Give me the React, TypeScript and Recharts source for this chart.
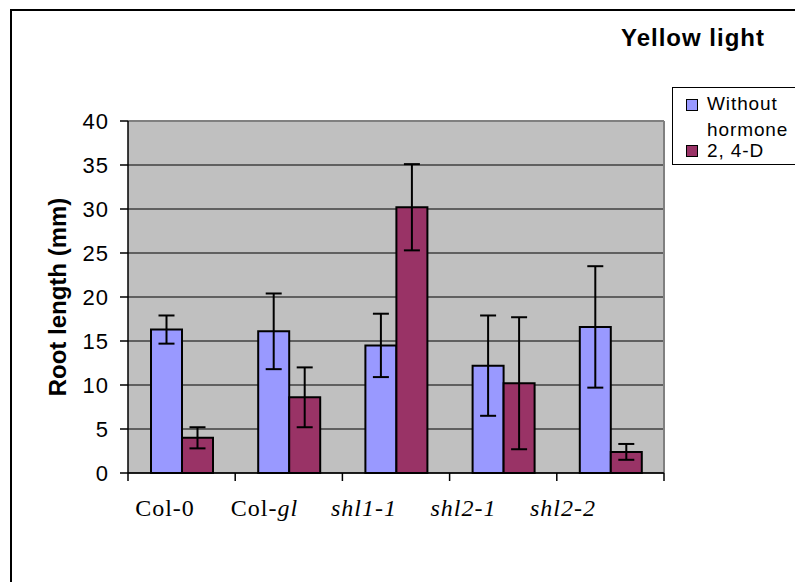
import React from 'react';
import { BarChart, Bar, XAxis, YAxis, CartesianGrid, ErrorBar, Legend } from 'recharts';

// values
const categories = ['Col-0', 'Col-gl', 'shl1-1', 'shl2-1', 'shl2-2'];
const withoutHormone = [16.3, 16.1, 14.5, 12.2, 16.6];
const withoutHormoneErr = [1.6, 4.3, 3.6, 5.7, 6.9];
const twoFourD = [4.0, 8.6, 30.2, 10.2, 2.4];
const twoFourDErr = [1.2, 3.4, 4.9, 7.5, 0.9];
const yTicks = [0, 5, 10, 15, 20, 25, 30, 35, 40];
const seriesOrder = ['without', 'd24'];

const data = categories.map((name, i) => ({
  name,
  without: withoutHormone[i],
  withoutErr: withoutHormoneErr[i],
  d24: twoFourD[i],
  d24Err: twoFourDErr[i],
}));

const sans = 'Arial, "Liberation Sans", sans-serif';
const serif = '"Times New Roman", "Liberation Serif", serif';

const XTick = (props: any) => {
  const { x, y, payload, index } = props;
  const count = props.visibleTicksCount || categories.length;
  const half = payload && payload.offset ? payload.offset : 53.6;
  const name: string = payload.value;
  // labels in the original sit a bit left of the category centres
  const shift = -16.6 - 7.7 * index;
  let content: React.ReactNode = name;
  if (name === 'Col-gl') {
    content = (
      <>
        Col-<tspan fontStyle="italic">gl</tspan>
      </>
    );
  } else if (name.startsWith('shl')) {
    content = <tspan fontStyle="italic">{name}</tspan>;
  }
  return (
    <g>
      <line x1={x - half} x2={x - half} y1={y} y2={y + 8} stroke="#000" strokeWidth={1.5} />
      {index === count - 1 && (
        <line x1={x + half} x2={x + half} y1={y} y2={y + 8} stroke="#000" strokeWidth={1.5} />
      )}
      <text
        x={x + shift}
        y={y + 43}
        textAnchor="middle"
        fill="#000"
        fontFamily={serif}
        fontSize={24}
        letterSpacing={1}
      >
        {content}
      </text>
    </g>
  );
};

const YTitle = (props: any) => {
  const vb = props.viewBox || { x: 58, y: 121, height: 352 };
  const cx = vb.x - 1;
  const cy = vb.y + vb.height / 2;
  return (
    <text
      x={cx}
      y={cy}
      transform={`rotate(-90 ${cx} ${cy})`}
      textAnchor="middle"
      dominantBaseline="central"
      fontFamily={sans}
      fontWeight="bold"
      fontSize={24}
      fill="#000"
    >
      Root length (mm)
    </text>
  );
};

const renderLegend = (props: any) => {
  const payload = [...(props.payload || [])].sort(
    (a: any, b: any) => seriesOrder.indexOf(a.dataKey) - seriesOrder.indexOf(b.dataKey)
  );
  const tops = [3, 50];
  const squareTops = [8, 7];
  return (
    <div
      style={{
        position: 'relative',
        width: 130,
        height: 78,
        border: '1px solid #000',
        background: '#fff',
        boxSizing: 'border-box',
        fontFamily: sans,
        fontSize: 19,
        letterSpacing: 0.9,
        color: '#000',
      }}
    >
      {payload.map((entry: any, i: number) => (
        <div
          key={entry.value}
          style={{ position: 'absolute', left: 13, top: tops[i], display: 'flex', alignItems: 'flex-start' }}
        >
          <span
            style={{
              display: 'block',
              width: 12,
              height: 12,
              marginTop: squareTops[i],
              border: '1px solid #000',
              boxSizing: 'border-box',
              background: entry.color,
              flex: 'none',
            }}
          />
          <span style={{ display: 'block', marginLeft: 9, width: 86, lineHeight: '26px' }}>{entry.value}</span>
        </div>
      ))}
    </div>
  );
};

export default function App() {
  return (
    <div style={{ position: 'fixed', left: 0, top: 0, width: 795, height: 582, overflow: 'hidden', background: '#fff' }}>
      {/* outer frame, cut off at the right and bottom like the original */}
      <div
        style={{
          position: 'absolute',
          left: 10,
          top: 9,
          width: 800,
          height: 600,
          border: '2px solid #000',
        }}
      />
      <div
        style={{
          position: 'absolute',
          left: 621,
          top: 26,
          fontFamily: sans,
          fontWeight: 'bold',
          fontSize: 24,
          lineHeight: '24px',
          letterSpacing: 1,
          whiteSpace: 'nowrap',
          color: '#000',
        }}
      >
        Yellow light
      </div>
      <div style={{ position: 'absolute', left: 0, top: 0 }}>
        <BarChart
          width={795}
          height={582}
          data={data}
          margin={{ top: 121, right: 131, bottom: 69, left: 58 }}
          barGap={0}
        >
          <CartesianGrid fill="#C0C0C0" stroke="#000" strokeWidth={1} vertical={false} />
          <CartesianGrid
            fill="none"
            stroke="#808080"
            strokeWidth={2}
            horizontalCoordinatesGenerator={({ offset }: any) => [offset.top]}
            verticalCoordinatesGenerator={({ offset }: any) => [offset.left + offset.width]}
          />
          <XAxis
            dataKey="name"
            interval={0}
            height={40}
            axisLine={{ stroke: '#000', strokeWidth: 1.5 }}
            tickLine={false}
            tickSize={0}
            tickMargin={0}
            tick={<XTick />}
          />
          <YAxis
            domain={[0, 40]}
            ticks={yTicks}
            interval={0}
            width={70}
            axisLine={{ stroke: '#000', strokeWidth: 1.5 }}
            tickLine={{ stroke: '#000', strokeWidth: 1.5 }}
            tickSize={8}
            tickMargin={11}
            tick={{ fill: '#000', fontSize: 22, fontFamily: sans, letterSpacing: 1 }}
            label={(p: any) => <YTitle {...p} />}
          />
          <Legend
            layout="horizontal"
            verticalAlign="middle"
            align="center"
            content={renderLegend}
            wrapperStyle={{ position: 'absolute', left: 672, top: 87, width: 130, height: 78 }}
          />
          <Bar
            dataKey="without"
            name="Without hormone"
            fill="#9999FF"
            stroke="#000"
            strokeWidth={2}
            barSize={31}
            isAnimationActive={false}
          >
            <ErrorBar dataKey="withoutErr" direction="y" width={8} stroke="#000" strokeWidth={2} />
          </Bar>
          <Bar
            dataKey="d24"
            name="2, 4-D"
            fill="#993366"
            stroke="#000"
            strokeWidth={2}
            barSize={31}
            isAnimationActive={false}
          >
            <ErrorBar dataKey="d24Err" direction="y" width={8} stroke="#000" strokeWidth={2} />
          </Bar>
        </BarChart>
      </div>
    </div>
  );
}
